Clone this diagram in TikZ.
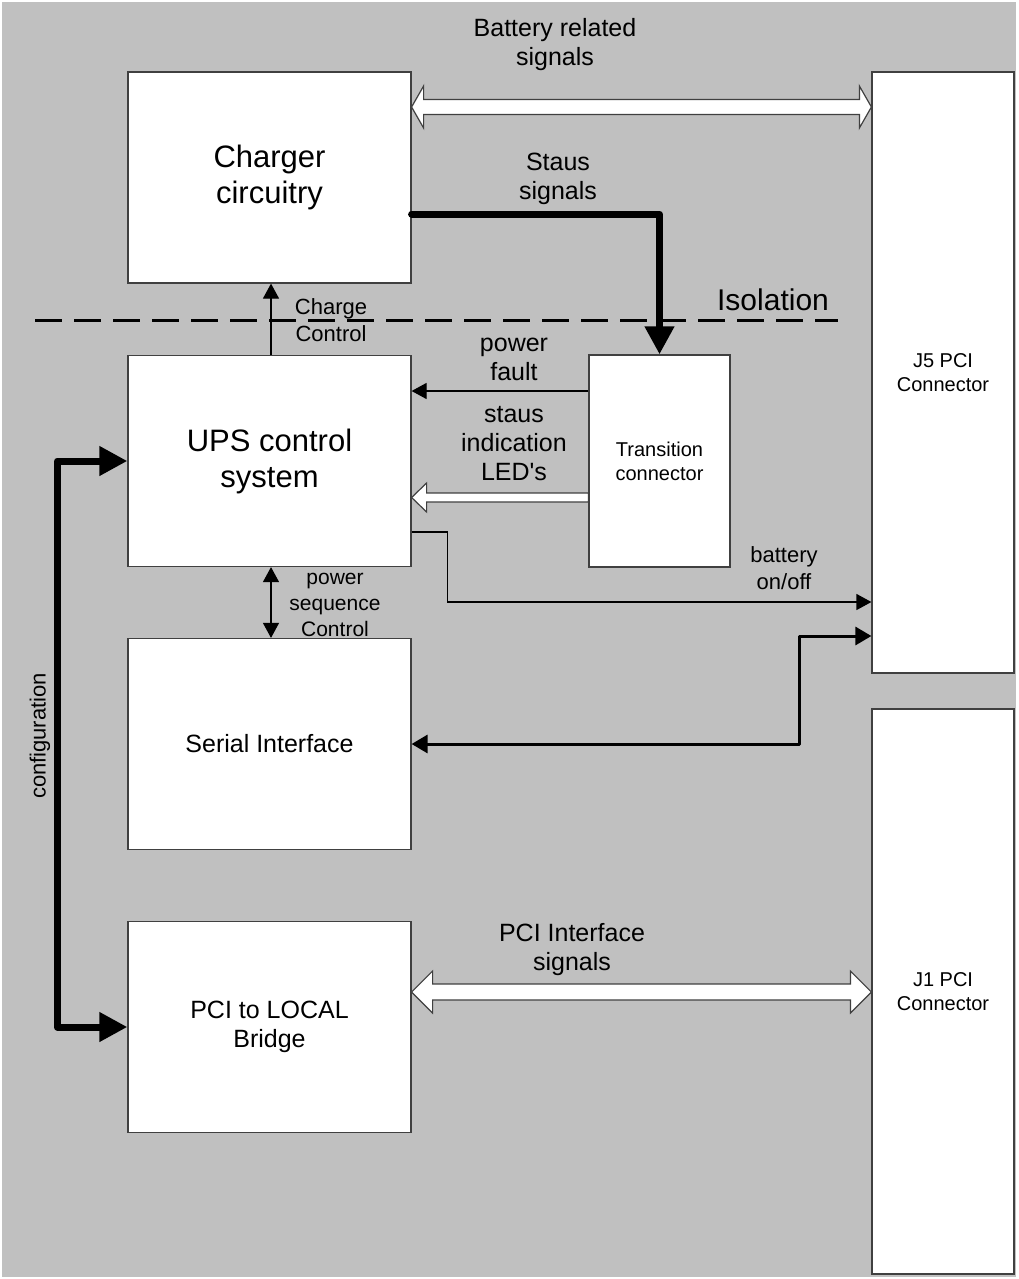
\documentclass[tikz,border=0pt]{standalone}
\usepackage{fontspec}
\setmainfont{Liberation Sans}
\usetikzlibrary{arrows.meta,calc}

\definecolor{panel}{HTML}{C0C0C0}
\definecolor{edge}{HTML}{404040}

% hollow double arrow: #1 left end, #2 right end, #3 head length, #4 head half width, #5 shaft half width
\newcommand{\hollowdbl}[5]{%
  \draw[hollow] (#1) -- ++(#3,-#4) -- ++(0,#4-#5) -- ($(#2)+(-#3,-#5)$) -- ++(0,#5-#4)
    -- (#2) -- ++(-#3,#4) -- ++(0,#5-#4) -- ($(#1)+(#3,#5)$) -- ++(0,#4-#5) -- cycle;}

\tikzset{
  smalltri/.tip={Triangle[length=7.5pt,width=8pt]},
  midtri/.tip={Triangle[length=8pt,width=9pt]},
  bigtri/.tip={Triangle[length=14pt,width=14pt]},
  block/.style={draw=edge, line width=0.6pt, fill=white, inner sep=0pt, align=center,
    minimum width=141.5pt, minimum height=105.5pt, font=\fontsize{12.5}{14.5}\selectfont},
  bigtext/.style={font=\fontsize{15.5}{18}\selectfont},
  smalltext/.style={font=\fontsize{10}{12}\selectfont},
  note/.style={align=center, inner sep=0pt, yshift=-1pt, font=\fontsize{12.5}{14.5}\selectfont},
  fineline/.style={line width=0.6pt, -smalltri},
  midline/.style={line width=1.5pt, line join=round, midtri-midtri},
  boldline/.style={line width=3.5pt, line cap=round, line join=round, -bigtri},
  hollow/.style={draw=edge, line width=0.6pt, fill=white, line join=miter},
}

\begin{document}
\begin{tikzpicture}[x=0.5pt,y=-0.5pt]
    \useasboundingbox (0,0) rectangle (1018,1279);

    % Background panel
    \fill[white] (0,0) rectangle (1018,1279);
    \fill[panel] (2,2) rectangle (1016,1277);

    % Blocks
    \node[block, bigtext] (charger) at (269.5,177.5) {Charger\\circuitry};
    \node[block, bigtext] (ups) at (269.5,461) {UPS control\\system};
    \node[block] (serial) at (269.5,744) {Serial Interface};
    \node[block] (bridge) at (269.5,1027) {PCI to LOCAL\\Bridge};
    \node[block, smalltext, minimum width=70.5pt, minimum height=106pt] (trans) at (659.5,461) {Transition\\connector};
    \node[block, smalltext, minimum width=71pt, minimum height=300.5pt] (jfive) at (943,372.5) {J5 PCI\\Connector};
    \node[block, smalltext, minimum width=71pt, minimum height=282.5pt] (jone) at (943,991.5) {J1 PCI\\Connector};

    % Isolation barrier
    \draw[line width=1.5pt, dash pattern=on 13.5pt off 6pt] (35,320) -- (838,320);

    % Signal labels
    \node[note] (battxt) at (555,42.5) {Battery related\\signals};
    \node[note] (statxt) at (558,177) {Staus\\signals};
    \node[note, font=\fontsize{15}{18}\selectfont] (isotxt) at (773,298) {Isolation};
    \node[note, font=\fontsize{11}{13.5}\selectfont] (cctxt) at (331,318.5) {Charge\\Control};
    \node[note] (pftxt) at (514,357.5) {power\\fault};
    \node[note] (ledtxt) at (514,442) {staus\\indication\\LED\textquotesingle s};
    \node[note, font=\fontsize{11}{13.5}\selectfont] (botxt) at (784,566.5) {battery\\on/off};
    \node[note, font=\fontsize{10.5}{13}\selectfont] (pstxt) at (335,603) {power\\sequence\\Control};
    \node[note, font=\fontsize{11}{13.5}\selectfont, rotate=90] (cfgtxt) at (40,734) {configuration};
    \node[note] (pcitxt) at (572,948) {PCI Interface\\signals};

    % Levels of the connectors
    \coordinate (batY) at (0,107);
    \coordinate (stY) at (0,214);
    \coordinate (pfY) at (0,391);
    \coordinate (ledY) at (0,497.5);
    \coordinate (boY) at (0,532);
    \coordinate (boYb) at (0,602);
    \coordinate (sjY) at (0,636);
    \coordinate (pciY) at (0,992);

    % Bus arrows
    \coordinate (batL) at (charger.east |- batY);
    \coordinate (batR) at (jfive.west |- batY);
    \hollowdbl{batL}{batR}{12}{21}{7.5}
    \coordinate (pciL) at (bridge.east |- pciY);
    \coordinate (pciR) at (jone.west |- pciY);
    \hollowdbl{pciL}{pciR}{21}{21}{8}
    \coordinate (ledL) at (ups.east |- ledY);
    \coordinate (ledR) at (trans.west |- ledY);
    \draw[hollow] (ledL) -- ++(15,-14.5) -- ++(0,10) -- ($(ledR)+(0,-4.5)$) -- ++(0,9)
        -- ($(ledL)+(15,4.5)$) -- ++(0,10) -- cycle;

    % Single line connectors
    \draw[boldline] (charger.east |- stY) -| (trans.north);
    \draw[boldline, bigtri-bigtri] (ups.west) -- ++(-70,0) |- (bridge.west);
    \draw[fineline] ([xshift=0.75pt]ups.north) -- ([xshift=0.75pt]charger.south);
    \draw[fineline] (trans.west |- pfY) -- (ups.east |- pfY);
    \draw[fineline] (ups.east |- boY) -- ++(36,0) |- (jfive.west |- boYb);
    \draw[fineline, smalltri-smalltri] ([xshift=0.75pt]ups.south) -- ([xshift=0.75pt]serial.north);
    \draw[midline] (jfive.west |- sjY) -- ++(-72,0) |- (serial.east);
\end{tikzpicture}
\end{document}
